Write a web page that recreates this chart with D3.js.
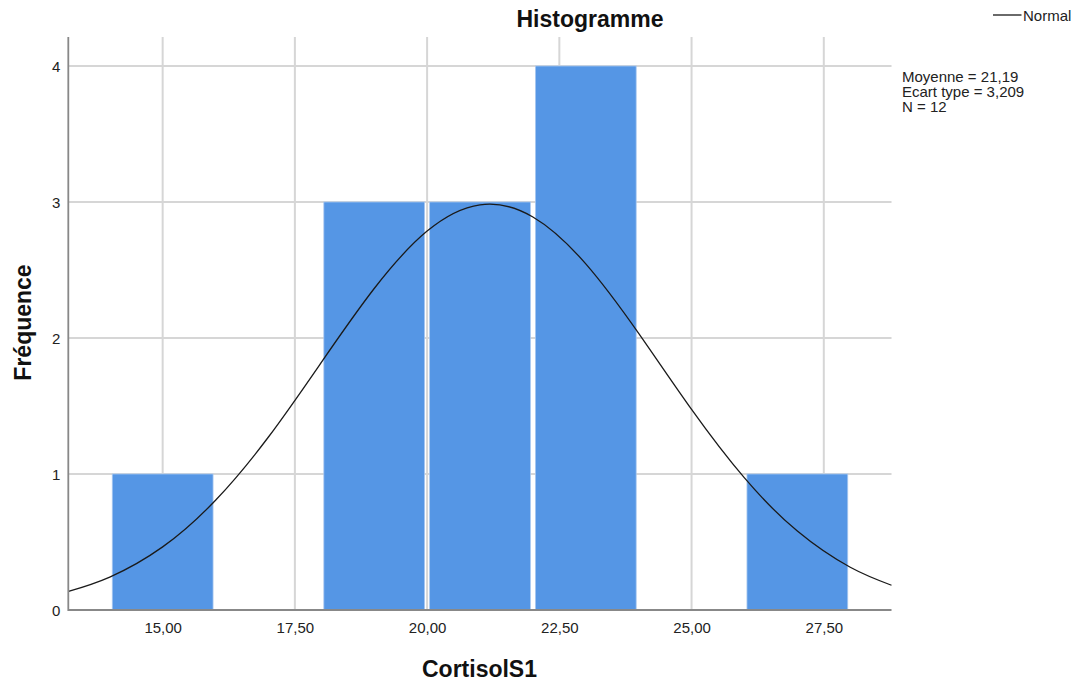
<!DOCTYPE html>
<html><head><meta charset="utf-8">
<script src="https://cdn.jsdelivr.net/npm/d3@7"></script>
<style>body{margin:0;background:#fff;}svg{display:block;font-family:"Liberation Sans",Arial,sans-serif;}</style>
</head><body><svg id="c" width="1074" height="684"></svg>
<script>
// Data
const binStarts = [14, 18, 20, 22, 26];
const binWidth = 2;
const counts = [1, 3, 3, 4, 1];
const xTicks = [15, 17.5, 20, 22.5, 25, 27.5];
const yTicks = [0, 1, 2, 3, 4];
const curveX = [13.22, 14, 15, 16, 17, 18, 19, 20, 21, 22, 23, 24, 25, 26, 27, 28, 28.78];
const curveY = [0.137, 0.242, 0.464, 0.807, 1.272, 1.821, 2.364, 2.786, 2.979, 2.890, 2.545, 2.034, 1.475, 0.971, 0.580, 0.314, 0.182];
const statsLines = ["Moyenne = 21,19", "Ecart type = 3,209", "N = 12"];

const svg = d3.select("#c");
const L = 68.3, R = 891.5, T = 37, B = 610;
const x = d3.scaleLinear().domain([13.216, 28.78]).range([L, R]);
const y = d3.scaleLinear().domain([0, 4]).range([B, 66]);
const fmt = v => d3.format(".2f")(v).replace(".", ",");
const FONT = "Liberation Sans, Arial, sans-serif";

// gridlines
svg.append("g").selectAll("line").data(xTicks).join("line")
  .attr("x1", d => x(d)).attr("x2", d => x(d)).attr("y1", T).attr("y2", B)
  .attr("stroke", "#d6d6d6").attr("stroke-width", 2);
svg.append("g").selectAll("line").data(yTicks.filter(d => d > 0)).join("line")
  .attr("x1", L).attr("x2", R).attr("y1", d => y(d)).attr("y2", d => y(d))
  .attr("stroke", "#d6d6d6").attr("stroke-width", 2);

// bars
svg.append("g").selectAll("rect").data(binStarts).join("rect")
  .attr("x", d => x(d) + 2.5).attr("width", d => x(d + binWidth) - x(d) - 5)
  .attr("y", (d, i) => y(counts[i])).attr("height", (d, i) => B - y(counts[i]))
  .attr("fill", "#5596e5").attr("stroke", "#a9c8f0").attr("stroke-width", 0.8);

// normal curve
const line = d3.line().x((d, i) => x(curveX[i])).y(d => y(d)).curve(d3.curveNatural);
svg.append("path").attr("d", line(curveY)).attr("fill", "none").attr("stroke", "#1a1a1a").attr("stroke-width", 1.3);

// axes
const xAxis = d3.axisBottom(x).tickValues(xTicks).tickFormat(fmt).tickSize(0).tickPadding(12.3);
const gx = svg.append("g").attr("transform", `translate(0,${B})`).call(xAxis);
gx.select(".domain").remove();
gx.selectAll("text").attr("font-size", 15).attr("fill", "#222").attr("font-family", FONT);
const yAxis = d3.axisLeft(y).tickValues(yTicks).tickFormat(d3.format("d")).tickSize(0).tickPadding(8);
const gy = svg.append("g").attr("transform", `translate(${L},0)`).call(yAxis);
gy.select(".domain").remove();
gy.selectAll("text").attr("font-size", 15).attr("fill", "#222").attr("font-family", FONT)
  .attr("dy", "0.38em");

svg.append("line").attr("x1", L).attr("x2", L).attr("y1", T).attr("y2", B + 1).attr("stroke", "#888").attr("stroke-width", 1.8);
svg.append("line").attr("x1", L).attr("x2", R).attr("y1", B).attr("y2", B).attr("stroke", "#888").attr("stroke-width", 1.8);

// titles
svg.append("text").attr("x", 590).attr("y", 27).attr("text-anchor", "middle")
  .attr("font-size", 23).attr("font-weight", "bold").attr("fill", "#111").text("Histogramme");
svg.append("text").attr("x", 479.5).attr("y", 677).attr("text-anchor", "middle")
  .attr("font-size", 23).attr("font-weight", "bold").attr("fill", "#111").text("CortisolS1");
svg.append("text").attr("transform", "translate(31,322.5) rotate(-90)").attr("text-anchor", "middle")
  .attr("font-size", 23).attr("font-weight", "bold").attr("fill", "#111").text("Fréquence");

// legend
svg.append("line").attr("x1", 993).attr("x2", 1021.5).attr("y1", 15).attr("y2", 15).attr("stroke", "#1a1a1a").attr("stroke-width", 1.3);
svg.append("text").attr("x", 1023).attr("y", 21).attr("font-size", 15).attr("fill", "#222").text("Normal");

// stats
svg.append("g").selectAll("text").data(statsLines).join("text")
  .attr("x", 902).attr("y", (d, i) => 82 + i * 15).attr("font-size", 15).attr("fill", "#222").text(d => d);
</script></body></html>
